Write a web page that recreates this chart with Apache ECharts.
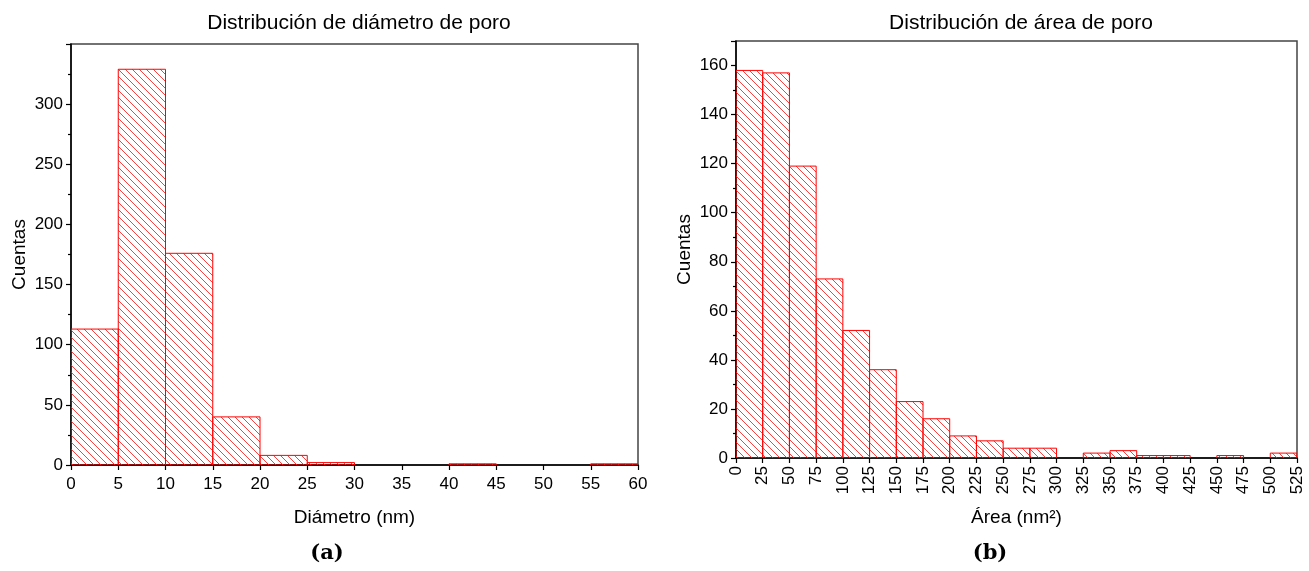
<!DOCTYPE html>
<html>
<head>
<meta charset="utf-8">
<script src="https://cdn.jsdelivr.net/npm/echarts@6/dist/echarts.min.js"></script>
<style>
html,body{margin:0;padding:0;background:#fff;}
#c{width:1309px;height:571px;}
</style>
</head>
<body>
<div id="c"></div>
<script>
// Diameter histogram (bin start, bin end, count)
const diamBinStarts = [0, 5, 10, 15, 20, 25, 30, 35, 40, 45, 50, 55];
const diamBinWidth = 5;
const diamCounts = [113, 329, 176, 40, 8, 2, 0, 0, 1, 0, 0, 1];

// Area histogram
const areaBinStarts = [0, 25, 50, 75, 100, 125, 150, 175, 200, 225, 250, 275, 300, 325, 350, 375, 400, 425, 450, 475, 500];
const areaBinWidth = 25;
const areaCounts = [158, 157, 119, 73, 52, 36, 23, 16, 9, 7, 4, 4, 0, 2, 3, 1, 1, 0, 1, 0, 2];

const titles = ['Distribución de diámetro de poro', 'Distribución de área de poro'];
const xNames = ['Diámetro (nm)', 'Área (nm²)'];
const yName = 'Cuentas';
const captions = ['(a)', '(b)'];

// hatch pattern
function makeHatch() {
  const s = 7;
  const cv = document.createElement('canvas');
  cv.width = s; cv.height = s;
  const ctx = cv.getContext('2d');
  ctx.strokeStyle = 'rgba(255,40,40,0.9)';
  ctx.lineWidth = 1;
  ctx.beginPath();
  ctx.moveTo(-1, -1); ctx.lineTo(s + 1, s + 1);
  ctx.moveTo(-1, s - 1); ctx.lineTo(1, s + 1);
  ctx.moveTo(s - 1, -1); ctx.lineTo(s + 1, 1);
  ctx.stroke();
  return cv;
}
const hatch = makeHatch();

function toData(starts, w, counts) {
  return starts.map((s, i) => [s, s + w, counts[i]]);
}

function renderHist(params, api) {
  const x0 = api.value(0), x1 = api.value(1), v = api.value(2);
  if (!v) return null;
  const p0 = api.coord([x0, v]);
  const p1 = api.coord([x1, 0]);
  return {
    type: 'rect',
    shape: { x: p0[0], y: p0[1], width: p1[0] - p0[0], height: p1[1] - p0[1] },
    style: { fill: { image: hatch, repeat: 'repeat' }, stroke: '#ff0000', lineWidth: 1 }
  };
}

const FONT = 'Liberation Sans, Arial, sans-serif';

function xAxis(gi, max, interval, rotate, nameGap, margin) {
  return {
    gridIndex: gi, type: 'value', min: 0, max: max, interval: interval,
    name: xNames[gi], nameLocation: 'middle', nameGap: nameGap,
    nameTextStyle: { fontFamily: FONT, fontSize: 19, color: '#000' },
    axisLine: { show: true, onZero: false, lineStyle: { color: '#000', width: 1.5 } },
    axisTick: { show: true, inside: false, length: 5, lineStyle: { color: '#000', width: 1.2 } },
    axisLabel: { fontFamily: FONT, fontSize: 17, color: '#000', rotate: rotate, margin: margin },
    splitLine: { show: false }
  };
}
function yAxis(gi, max, interval, nameGap) {
  return {
    gridIndex: gi, type: 'value', min: 0, max: max, interval: interval,
    name: yName, nameLocation: 'middle', nameGap: nameGap,
    nameTextStyle: { fontFamily: FONT, fontSize: 19, color: '#000' },
    axisLine: { show: true, lineStyle: { color: '#000', width: 1.5 } },
    axisTick: { show: true, inside: false, length: 5, lineStyle: { color: '#000', width: 1.2 } },
    minorTick: { show: true, splitNumber: 2, length: 3, lineStyle: { color: '#000', width: 1.2 } },
    axisLabel: { fontFamily: FONT, fontSize: 17, color: '#000', margin: 8, showMaxLabel: false },
    splitLine: { show: false }
  };
}

const chart = echarts.init(document.getElementById('c'), null, { renderer: 'canvas' });
chart.setOption({
  backgroundColor: '#fff',
  animation: false,
  title: [
    { text: titles[0], left: 354, top: 8, textAlign: 'center', textStyle: { fontFamily: FONT, fontSize: 21, fontWeight: 'normal', color: '#000' } },
    { text: titles[1], left: 1016, top: 8, textAlign: 'center', textStyle: { fontFamily: FONT, fontSize: 21, fontWeight: 'normal', color: '#000' } },
    { text: captions[0], left: 322, top: 538, textAlign: 'center', textStyle: { fontFamily: 'DejaVu Serif, serif', fontSize: 21, fontWeight: 'bold', color: '#000' } },
    { text: captions[1], left: 985, top: 538, textAlign: 'center', textStyle: { fontFamily: 'DejaVu Serif, serif', fontSize: 21, fontWeight: 'bold', color: '#000' } }
  ],
  grid: [
    { left: 71, top: 44, width: 567, height: 421, show: true, borderColor: '#444', borderWidth: 1.5, backgroundColor: 'transparent' },
    { left: 736, top: 41, width: 561, height: 417, show: true, borderColor: '#444', borderWidth: 1.5, backgroundColor: 'transparent' }
  ],
  xAxis: [xAxis(0, 60, 5, 0, 43, 11), xAxis(1, 525, 25, 90, 50, 8)],
  yAxis: [yAxis(0, 350, 50, 42), yAxis(1, 170, 20, 42)],
  series: [
    { type: 'custom', xAxisIndex: 0, yAxisIndex: 0, renderItem: renderHist, encode: { x: [0, 1], y: 2 }, data: toData(diamBinStarts, diamBinWidth, diamCounts), clip: true },
    { type: 'custom', xAxisIndex: 1, yAxisIndex: 1, renderItem: renderHist, encode: { x: [0, 1], y: 2 }, data: toData(areaBinStarts, areaBinWidth, areaCounts), clip: true }
  ]
});
</script>
</body>
</html>
